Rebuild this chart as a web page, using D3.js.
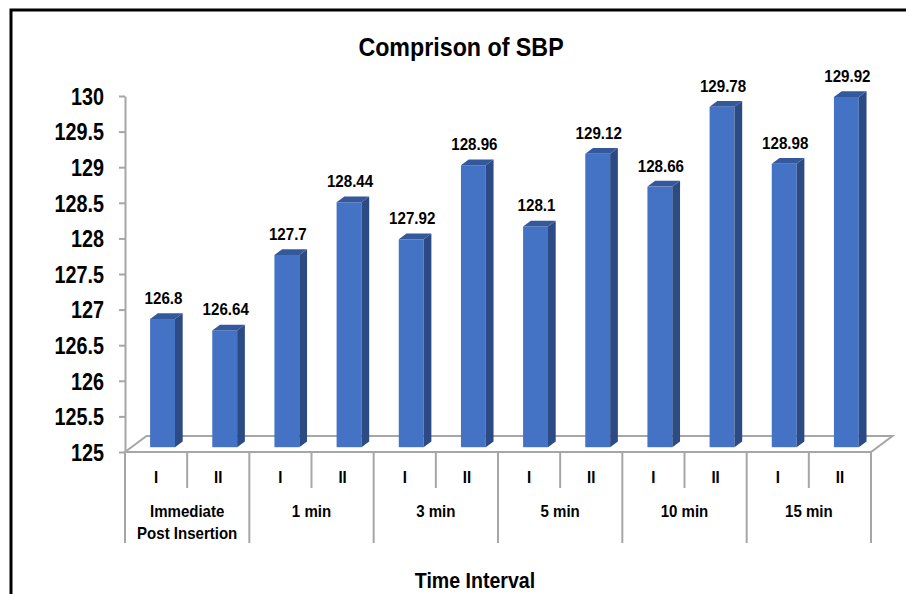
<!DOCTYPE html>
<html>
<head>
<meta charset="utf-8">
<script src="https://cdn.jsdelivr.net/npm/d3@7"></script>
<style>
  body { margin: 0; background: #fff; }
  text { font-family: "Liberation Sans", Arial, sans-serif; font-weight: bold; fill: #000; }
</style>
</head>
<body>
<div id="chart"></div>
<script>
// chart data
var groups = ["Immediate Post Insertion", "1 min", "3 min", "5 min", "10 min", "15 min"];
var phases = ["I", "II"];
var sbpValues = [126.8, 126.64, 127.7, 128.44, 127.92, 128.96, 128.1, 129.12, 128.66, 129.78, 128.98, 129.92];
var yTicks = [125, 125.5, 126, 126.5, 127, 127.5, 128, 128.5, 129, 129.5, 130];

var width = 906;
var height = 594;

let plot = { left: 125, right: 871, top: 96, bottom: 452 };
// floor depth and how far the bars sit into it
var depth = { dx: 21.5, dy: -16 };
var barShift = 0.3, barDepth = 0.36;

// the original uses a narrow font, squeeze the text horizontally instead
function squeeze(sel, k) {
  sel.each(function() {
    var t = d3.select(this);
    var x = +t.attr("x") || 0, y = +t.attr("y") || 0;
    t.attr("transform", `translate(${x},${y}) scale(${k},1)`).attr("x", 0).attr("y", 0);
  });
}

let svg = d3.select("#chart")
  .append("svg")
  .attr("width", width)
  .attr("height", height);

// outer frame (runs off the right/bottom edge like the original)
svg.append("rect")
   .attr("x", 11)
   .attr("y", 10)
   .attr("width", 1000)
   .attr("height", 1000)
   .style("fill", "none")
   .style("stroke", "#000")
   .style("stroke-width", 3);

var slots = [];
groups.forEach((g, gi) => phases.forEach((p, pi) => slots.push({ group: g, phase: p, gi: gi, pi: pi })));
slots.forEach((s, i) => s.value = sbpValues[i]);
var idx = slots.map((d, i) => i);

var xScale = d3.scaleBand().domain(idx).range([plot.left, plot.right]).paddingInner(0.6).paddingOuter(0.3);
var xEdge = d3.scaleLinear().domain([0, slots.length]).range([plot.left, plot.right]);
var yScale = d3.scaleLinear().domain([125, 130]).range([plot.bottom, plot.top]);

// floor
svg.append("polygon")
   .attr("points", [
     [plot.left, plot.bottom], [plot.right, plot.bottom],
     [plot.right + depth.dx, plot.bottom + depth.dy], [plot.left + depth.dx, plot.bottom + depth.dy]
   ].map(p => p.join(",")).join(" "))
   .style("fill", "#fff")
   .style("stroke", "#a6a6a6")
   .style("stroke-width", 2);

// bars
var sx = depth.dx * barShift, sy = depth.dy * barShift;
var bdx = depth.dx * barDepth, bdy = depth.dy * barDepth;
var bw = xScale.bandwidth();
var y0 = yScale(125) + sy;

var bars = svg.selectAll(".bar")
  .data(slots)
  .enter().append("g")
  .attr("class", "bar");

bars.append("rect")
  .attr("x", (d, i) => xScale(i) + sx)
  .attr("y", d => yScale(d.value) + sy)
  .attr("width", bw)
  .attr("height", d => y0 - (yScale(d.value) + sy))
  .style("fill", "#4472c4");

bars.append("polygon")
  .attr("points", (d, i) => {
    var x1 = xScale(i) + sx + bw, yt = yScale(d.value) + sy;
    return [[x1, yt], [x1 + bdx, yt + bdy], [x1 + bdx, y0 + bdy], [x1, y0]].map(p => p.join(",")).join(" ");
  })
  .style("fill", "#2c4b85");

bars.append("polygon")
  .attr("points", (d, i) => {
    var x0 = xScale(i) + sx, yt = yScale(d.value) + sy;
    return [[x0, yt], [x0 + bdx, yt + bdy], [x0 + bw + bdx, yt + bdy], [x0 + bw, yt]].map(p => p.join(",")).join(" ");
  })
  .style("fill", "#34589c");

// value labels
svg.selectAll(".value")
  .data(slots)
  .enter().append("text")
  .attr("class", "value")
  .attr("text-anchor", "middle")
  .attr("x", (d, i) => xScale(i) + sx + bw / 2 + 1)
  .attr("y", d => yScale(d.value) + sy - 15)
  .style("font-size", "17px")
  .text(d => d.value)
  .call(squeeze, 0.89);

// y axis
var yAxis = d3.axisLeft(yScale).tickValues(yTicks).tickSize(6).tickSizeOuter(0).tickPadding(15).tickFormat(d => String(d));
var yg = svg.append("g")
  .attr("transform", `translate(${plot.left},0)`)
  .call(yAxis);
yg.select(".domain").style("stroke", "#a6a6a6").style("stroke-width", 2);
yg.selectAll(".tick line").style("stroke", "#a6a6a6").style("stroke-width", 2);
yg.selectAll(".tick text")
  .attr("dy", "0.36em")
  .style("font-size", "23px")
  .style("font-family", null)
  .call(squeeze, 0.86);

// x axis: separators between bars, long ones between groups
var edges = d3.range(slots.length + 1);
svg.selectAll(".xtick")
  .data(edges)
  .enter().append("line")
  .attr("x1", d => xEdge(d))
  .attr("x2", d => xEdge(d))
  .attr("y1", plot.bottom)
  .attr("y2", d => d % 2 === 0 ? 543 : 488)
  .style("stroke", "#a6a6a6")
  .style("stroke-width", 2);

svg.selectAll(".phase")
  .data(slots)
  .enter().append("text")
  .attr("text-anchor", "middle")
  .attr("x", (d, i) => xEdge(i + 0.5))
  .attr("y", 483)
  .style("font-size", "16px")
  .text(d => d.phase)
  .call(squeeze, 0.94);

groups.forEach((g, gi) => {
  var lines = g === "Immediate Post Insertion" ? ["Immediate", "Post Insertion"] : [g];
  lines.forEach((l, li) => {
    svg.append("text")
       .attr("text-anchor", "middle")
       .attr("x", xEdge(gi * 2 + 1))
       .attr("y", 517 + li * 22)
       .style("font-size", "16px")
       .text(l)
       .call(squeeze, 0.94);
  });
});

// chart title
svg.append("text")
   .attr("text-anchor", "middle")
   .attr("x", 461)
   .attr("y", 56)
   .style("font-size", "25px")
   .text("Comprison of SBP")
   .call(squeeze, 0.93);

// x-axis title
svg.append("text")
   .attr("text-anchor", "middle")
   .attr("x", 475)
   .attr("y", 588)
   .style("font-size", "22px")
   .text("Time Interval")
   .call(squeeze, 0.89);
</script>
</body>
</html>
